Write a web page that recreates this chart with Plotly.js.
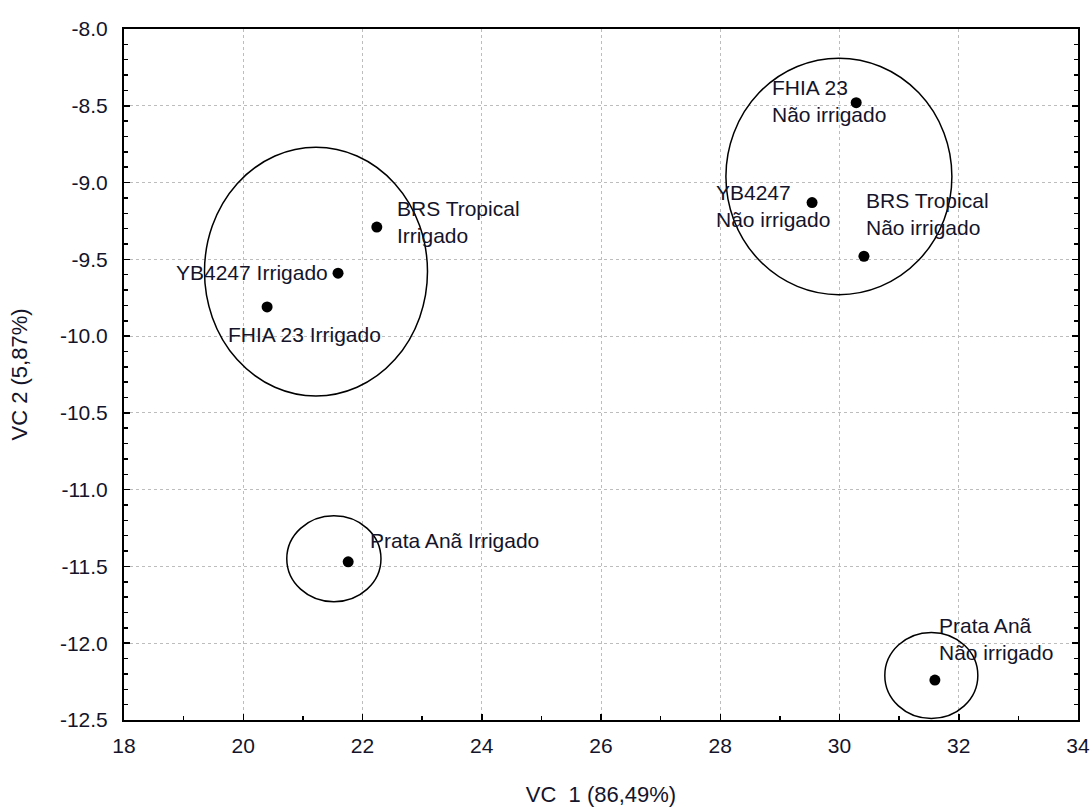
<!DOCTYPE html>
<html>
<head>
<meta charset="utf-8">
<script src="https://cdn.plot.ly/plotly-3.0.1.min.js"></script>
<style>
  html, body { margin: 0; padding: 0; background: #fff; }
  #chart { width: 1092px; height: 807px; }
</style>
</head>
<body>
<div id="chart"></div>
<script>
// Genotype x irrigation scores on the first two canonical variables
const labels = [
  "FHIA 23<br>Não irrigado",
  "YB4247<br>Não irrigado",
  "BRS Tropical<br>Não irrigado",
  "BRS Tropical<br>Irrigado",
  "YB4247 Irrigado",
  "FHIA 23 Irrigado",
  "Prata Anã Irrigado",
  "Prata Anã<br>Não irrigado"
];
const vc1 = [30.28, 29.54, 30.41, 22.24, 21.59, 20.40, 21.76, 31.60];
const vc2 = [-8.48, -9.13, -9.48, -9.29, -9.59, -9.81, -11.47, -12.24];

// Group envelopes (centre and half-widths in axis units)
const groupCx = [21.22, 29.99, 21.52, 31.54];
const groupCy = [-9.58, -8.96, -11.45, -12.21];
const groupRx = [1.87, 1.895, 0.79, 0.78];
const groupRy = [0.81, 0.77, 0.28, 0.28];

const xTicks = [18, 20, 22, 24, 26, 28, 30, 32, 34];
const yTicks = [-8.0, -8.5, -9.0, -9.5, -10.0, -10.5, -11.0, -11.5, -12.0, -12.5];
const yTickText = ["-8.0", "-8.5", "-9.0", "-9.5", "-10.0", "-10.5", "-11.0", "-11.5", "-12.0", "-12.5"];

// Label placement for each point: anchor and pixel offsets
const labelPlace = [
  {xa: "left",  dx: -86, dy: 2},
  {xa: "left",  dx: -98, dy: -3},
  {xa: "left",  dx: 0,   dy: 42},
  {xa: "left",  dx: 18,  dy: 5},
  {xa: "right", dx: -8,  dy: 1},
  {xa: "left",  dx: -41, dy: -28},
  {xa: "left",  dx: 20,  dy: 21},
  {xa: "left",  dx: 2,   dy: 41}
];

const FONT = "Liberation Sans, Arial, sans-serif";
const TXT = "#14142a";
const FS = 21;

const trace = {
  type: "scatter",
  mode: "markers",
  x: vc1,
  y: vc2,
  marker: {color: "#000", size: 11},
  hoverinfo: "x+y+text",
  text: labels,
  showlegend: false
};

const annotations = labels.map((t, i) => ({
  x: vc1[i], y: vc2[i], xref: "x", yref: "y",
  text: t, showarrow: false, align: "left",
  xanchor: labelPlace[i].xa, yanchor: "middle",
  xshift: labelPlace[i].dx, yshift: labelPlace[i].dy,
  font: {family: FONT, size: FS, color: TXT}
}));

const shapes = groupCx.map((cx, i) => ({
  type: "circle", xref: "x", yref: "y",
  x0: cx - groupRx[i], x1: cx + groupRx[i],
  y0: groupCy[i] - groupRy[i], y1: groupCy[i] + groupRy[i],
  line: {color: "#000", width: 1.5}
}));

const layout = {
  width: 1092, height: 807,
  margin: {l: 124, r: 14, t: 29, b: 87},
  paper_bgcolor: "#fff", plot_bgcolor: "#fff",
  font: {family: FONT, size: FS, color: TXT},
  xaxis: {
    range: [18, 34], tickvals: xTicks,
    ticks: "inside", ticklen: 6, tickcolor: "#000", tickwidth: 1.5,
    showline: true, linecolor: "#000", linewidth: 2, mirror: true,
    showgrid: true, gridcolor: "#bdbdbd", griddash: "dot", gridwidth: 1,
    zeroline: false, ticklabelstandoff: 6,
    tickfont: {family: FONT, size: FS, color: TXT},
    minor: {dtick: 1, ticks: "inside", ticklen: 4, tickcolor: "#000", showgrid: false},
    title: {text: "VC  1 (86,49%)", standoff: 30, font: {family: FONT, size: 22, color: TXT}}
  },
  yaxis: {
    range: [-12.5, -8.0], tickvals: yTicks, ticktext: yTickText,
    ticks: "inside", ticklen: 6, tickcolor: "#000", tickwidth: 1.5,
    showline: true, linecolor: "#000", linewidth: 2, mirror: "ticks",
    showgrid: true, gridcolor: "#bdbdbd", griddash: "dot", gridwidth: 1,
    zeroline: false, ticklabelstandoff: 10,
    tickfont: {family: FONT, size: FS, color: TXT},
    minor: {dtick: 0.1, ticks: "inside", ticklen: 4, tickcolor: "#000", showgrid: false},
    title: {text: "VC 2 (5,87%)", standoff: 26, font: {family: FONT, size: 22, color: TXT}}
  },
  shapes: shapes,
  annotations: annotations
};

Plotly.newPlot("chart", [trace], layout, {displayModeBar: false, staticPlot: true});
</script>
</body>
</html>
